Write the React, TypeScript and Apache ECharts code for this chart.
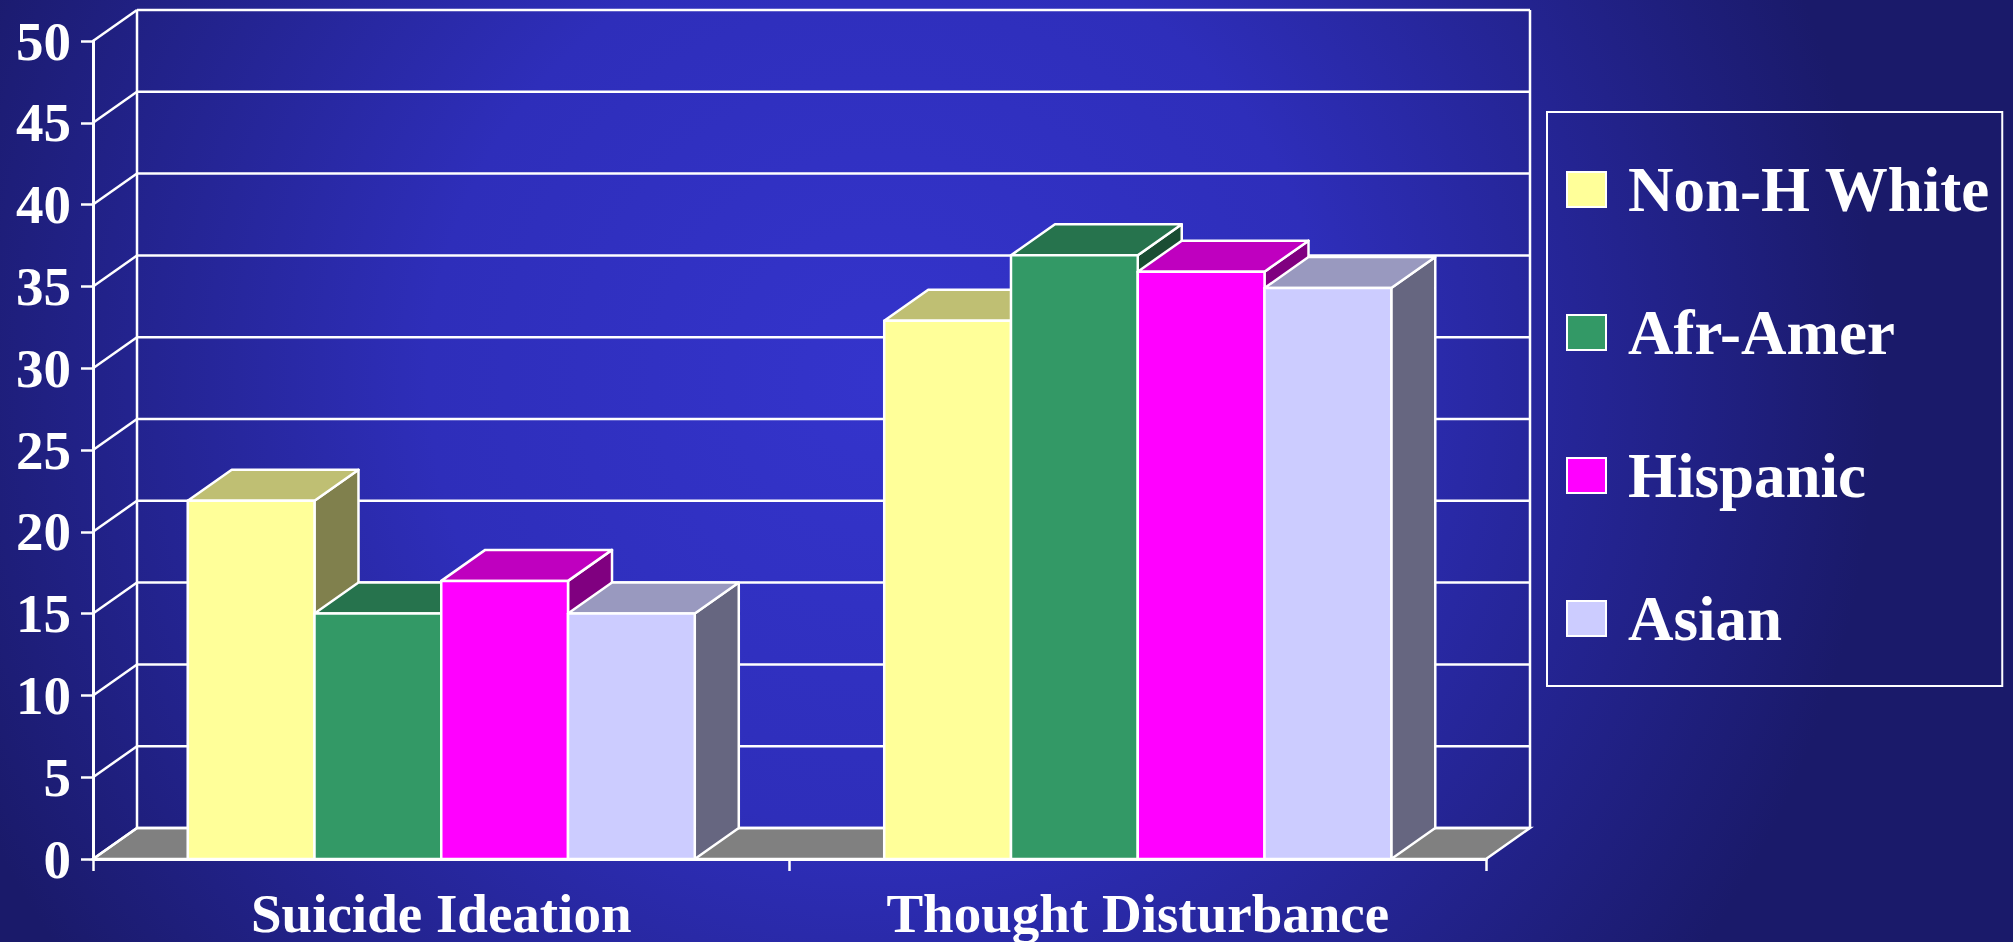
import React, { useEffect, useRef } from "react";
import * as echarts from "echarts";

const categories = ["Suicide Ideation", "Thought Disturbance"];
const seriesNames = ["Non-H White", "Afr-Amer", "Hispanic", "Asian"];
const nonHWhite = [21.9, 32.9];
const afrAmer = [15, 36.9];
const hispanic = [17, 35.9];
const asian = [15, 34.9];
const seriesValues = [nonHWhite, afrAmer, hispanic, asian];
const yTicks = [0, 5, 10, 15, 20, 25, 30, 35, 40, 45, 50];

const frontColors = ["#FFFF99", "#339966", "#FF00FF", "#CCCCFF"];
const topColors = ["#BFBF73", "#26734D", "#BF00BF", "#9999BF"];
const sideColors = ["#80804D", "#1A4D33", "#800080", "#666680"];

const DX = 44;
const DY = 31;
const CAT_GAP = 0.272;
const FONT = "'Liberation Serif', 'Times New Roman', serif";

export default function App() {
  const ref = useRef<HTMLDivElement>(null);
  useEffect(() => {
    document.body.style.margin = "0";
    document.body.style.overflow = "hidden";
    const chart = echarts.init(ref.current!, null, { renderer: "svg" });

    const barSeries = seriesNames.map((name, si) => ({
      type: "custom",
      name,
      coordinateSystem: "cartesian2d",
      clip: false,
      itemStyle: { color: frontColors[si], borderColor: "#fff", borderWidth: 2 },
      encode: { x: 0, y: 1 },
      data: seriesValues[si].map((v, ci) => [ci, v]),
      renderItem: (params: any, api: any) => {
        const cat = api.value(0);
        const val = api.value(1);
        const catW = api.size([1, 0])[0];
        const groupW = catW * (1 - CAT_GAP);
        const w = groupW / 4;
        const base = api.coord([cat, 0]);
        const top = api.coord([cat, val]);
        const x0 = base[0] - groupW / 2 + si * w;
        const yb = base[1];
        const yt = top[1];
        const st = { stroke: "#fff", lineWidth: 2.5, lineJoin: "round" };
        return {
          type: "group",
          children: [
            {
              type: "polygon",
              shape: { points: [[x0 + w, yt], [x0 + w + DX, yt - DY], [x0 + w + DX, yb - DY], [x0 + w, yb]] },
              style: { fill: sideColors[si], ...st },
            },
            {
              type: "polygon",
              shape: { points: [[x0, yt], [x0 + w, yt], [x0 + w + DX, yt - DY], [x0 + DX, yt - DY]] },
              style: { fill: topColors[si], ...st },
            },
            {
              type: "rect",
              shape: { x: x0, y: yt, width: w, height: yb - yt },
              style: { fill: frontColors[si], ...st },
            },
          ],
        };
      },
    }));

    const frameSeries = {
      type: "custom",
      name: "frame",
      coordinateSystem: "cartesian2d",
      clip: false,
      silent: true,
      encode: { x: 0, y: 1 },
      data: yTicks.map((v) => [0, v]),
      renderItem: (params: any, api: any) => {
        const v = api.value(1);
        const cs = params.coordSys;
        const L = cs.x;
        const R = cs.x + cs.width;
        const y = api.coord([0, v])[1];
        const y0 = api.coord([0, 0])[1];
        const ln = { stroke: "#fff", lineWidth: 2.5 };
        const children: any[] = [];
        if (v === 0) {
          children.push({
            type: "polygon",
            shape: { points: [[L, y0], [R, y0], [R + DX, y0 - DY], [L + DX, y0 - DY]] },
            style: { fill: "#808080", ...ln },
          });
        }
        children.push({ type: "line", shape: { x1: L, y1: y, x2: L + DX, y2: y - DY }, style: ln });
        children.push({ type: "line", shape: { x1: L + DX, y1: y - DY, x2: R + DX, y2: y - DY }, style: ln });
        if (v === yTicks[yTicks.length - 1]) {
          children.push({ type: "line", shape: { x1: L + DX, y1: y - DY, x2: L + DX, y2: y0 - DY }, style: ln });
          children.push({ type: "line", shape: { x1: R + DX, y1: y - DY, x2: R + DX, y2: y0 - DY }, style: ln });
        }
        return { type: "group", children };
      },
    };

    chart.setOption({
      animation: false,
      graphic: [
        {
          type: "rect",
          z: -10,
          silent: true,
          shape: { x: 0, y: 0, width: 2013, height: 942 },
          style: {
            fill: new echarts.graphic.RadialGradient(880, 380, 1000, [
              { offset: 0, color: "#3434CC" },
              { offset: 0.45, color: "#2E2EBA" },
              { offset: 1, color: "#1A1A6A" },
            ], true),
          },
        },
      ],
      grid: { left: 93, right: 527, top: 41, bottom: 83 },
      legend: {
        orient: "vertical",
        left: 1547,
        top: 112,
        data: seriesNames,
        icon: "rect",
        itemWidth: 39,
        itemHeight: 35,
        itemGap: 80,
        padding: [46, 12, 36, 19],
        borderColor: "#fff",
        borderWidth: 2,
        itemStyle: { borderColor: "#fff", borderWidth: 2 },
        textStyle: {
          color: "#fff",
          fontFamily: FONT,
          fontWeight: "bold",
          fontSize: 63,
          padding: [0, 0, 0, 17],
        },
      },
      xAxis: {
        type: "category",
        data: categories,
        boundaryGap: true,
        axisLine: { show: true, lineStyle: { color: "#fff", width: 3 } },
        axisTick: { show: true, length: 12, lineStyle: { color: "#fff", width: 2.5 } },
        axisLabel: {
          color: "#fff",
          fontFamily: FONT,
          fontWeight: "bold",
          fontSize: 55,
          lineHeight: 46,
          margin: 31,
        },
        splitLine: { show: false },
      },
      yAxis: {
        type: "value",
        min: 0,
        max: 50,
        interval: 5,
        axisLine: { show: true, lineStyle: { color: "#fff", width: 3 } },
        axisTick: { show: true, length: 12, lineStyle: { color: "#fff", width: 2.5 } },
        axisLabel: {
          color: "#fff",
          fontFamily: FONT,
          fontWeight: "bold",
          fontSize: 55,
          margin: 22,
        },
        splitLine: { show: false },
      },
      series: [frameSeries, ...barSeries],
    });
    return () => chart.dispose();
  }, []);
  return <div ref={ref} style={{ width: 2013, height: 942 }} />;
}
